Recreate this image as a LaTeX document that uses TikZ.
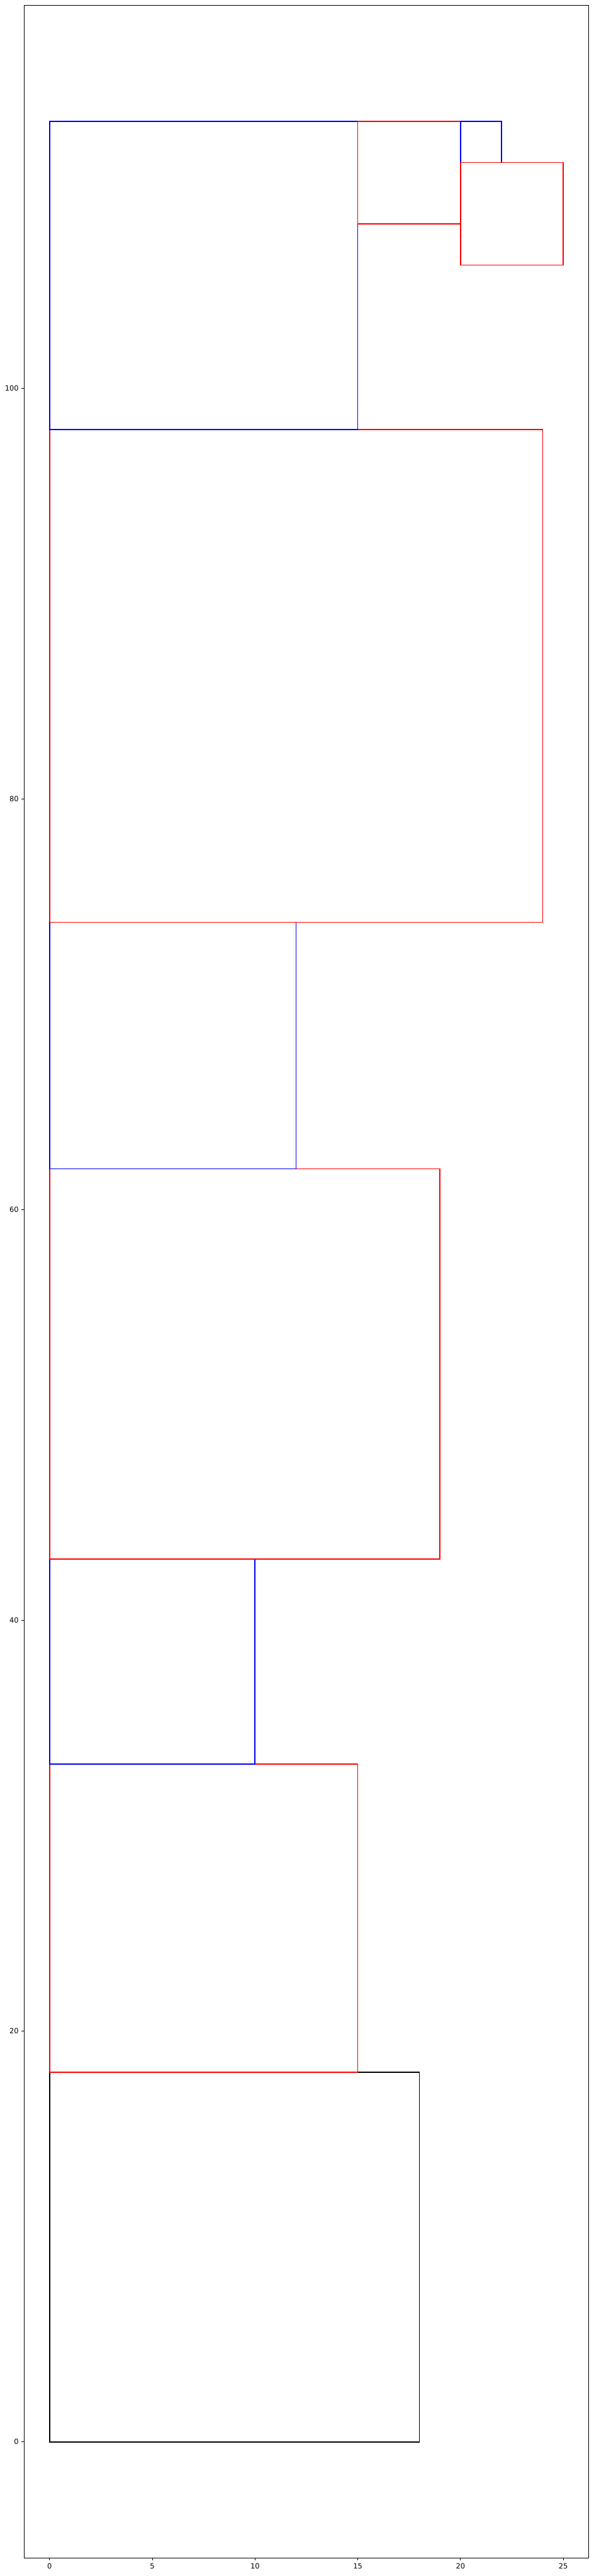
\documentclass[tikz,border=0pt]{standalone}
\usepackage{fontspec}
\setmainfont{DejaVu Sans}
\definecolor{sqred}{RGB}{255,0,0}
\definecolor{sqblue}{RGB}{0,0,255}

\tikzset{
  sqbox/.style={line width=1.0pt, line join=miter},
  axisline/.style={line width=0.56pt, black},
  ticklab/.style={font=\fontsize{6.94}{8}\selectfont, inner sep=0pt, text=black},
}

\begin{document}
\begin{tikzpicture}[x=19.89pt, y=19.89pt]
\useasboundingbox (-2.413,-6.53) rectangle (26.496,118.914);

% --- Squares (later ones drawn on top) ---
\foreach \x/\y/\s/\c in {0/0/18/black, 0/18/15/sqred, 0/33/10/sqblue,
                         0/43/19/sqred, 0/62/12/sqblue, 0/74/24/sqred,
                         0/98/15/sqblue, 15/108/5/sqred, 20/111/2/sqblue,
                         20/106/5/sqred} {
  \draw[sqbox, draw=\c] (\x,\y) rectangle ++(\s,\s);
}

% --- Axes frame ---
\draw[axisline] (-1.25,-5.65) rectangle (26.25,118.65);

% x ticks
\foreach \t in {0,5,...,25} {
  \draw[axisline] (\t,-5.65) -- ++(0pt,-2.43pt)
    node[ticklab, anchor=north, yshift=-2.43pt] (xt\t) {\t};
}

% y ticks
\foreach \t in {0,20,...,100} {
  \draw[axisline] (-1.25,\t) -- ++(-2.43pt,0pt)
    node[ticklab, anchor=east, xshift=-2.43pt] (yt\t) {\t};
}
\end{tikzpicture}
\end{document}
